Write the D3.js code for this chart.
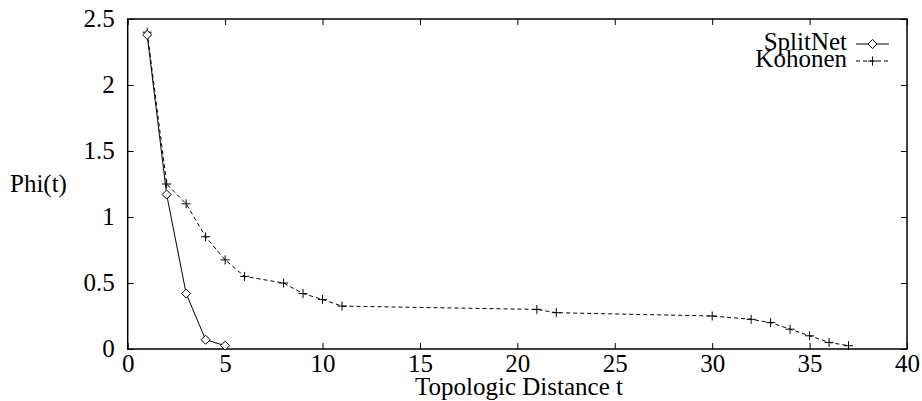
<!DOCTYPE html>
<html>
<head>
<meta charset="utf-8">
<script src="https://cdn.jsdelivr.net/npm/d3@7"></script>
<style>
  html, body { margin: 0; padding: 0; background: #fff; }
  svg { display: block; }
</style>
</head>
<body>
<div id="chart"></div>
<script>
// data
const splitT = [1, 2, 3, 4, 5];
const splitPhi = [2.38, 1.17, 0.42, 0.07, 0.025];

const kohT = [1, 2, 3, 4, 5, 6, 8, 9, 10, 11, 21, 22, 30, 32, 33, 34, 35, 36, 37];
const kohPhi = [2.40, 1.25, 1.10, 0.85, 0.675, 0.55, 0.50, 0.42, 0.375, 0.325, 0.30, 0.275, 0.25, 0.225, 0.20, 0.15, 0.10, 0.05, 0.025];

const xTicks = [0, 5, 10, 15, 20, 25, 30, 35, 40];
const yTicks = [0, 0.5, 1, 1.5, 2, 2.5];
const seriesNames = ["SplitNet", "Kohonen"];

const width = 922, height = 401;
const margin = { top: 19, right: 15, bottom: 52, left: 127.7 };
const serif = "'Liberation Serif', 'Times New Roman', Times, 'DejaVu Serif', serif";

const svg = d3.select("#chart")
    .append("svg")
    .attr("width", width)
    .attr("height", height)
    .style("font-family", serif)
    .style("font-size", "25px");

const x = d3.scaleLinear()
    .domain([0, 40])
    .range([margin.left, width - margin.right]);

const y = d3.scaleLinear()
    .domain([0, 2.5])
    .range([height - margin.bottom, margin.top]);

const tickLen = 6;

// ticks on all four sides, pointing inward
const xBottom = svg.append("g")
    .attr("transform", `translate(0,${y(0)})`)
    .call(d3.axisBottom(x).tickValues(xTicks).tickSizeInner(-tickLen).tickSizeOuter(0).tickPadding(0).tickFormat(d3.format("d")));
const xTop = svg.append("g")
    .attr("transform", `translate(0,${y(2.5)})`)
    .call(d3.axisTop(x).tickValues(xTicks).tickSizeInner(-tickLen).tickSizeOuter(0).tickFormat(""));
const yLeft = svg.append("g")
    .attr("transform", `translate(${x(0)},0)`)
    .call(d3.axisLeft(y).tickValues(yTicks).tickSizeInner(-tickLen).tickSizeOuter(0).tickFormat(d => String(d)));
const yRight = svg.append("g")
    .attr("transform", `translate(${x(40)},0)`)
    .call(d3.axisRight(y).tickValues(yTicks).tickSizeInner(-tickLen).tickSizeOuter(0).tickFormat(""));

[xBottom, xTop, yLeft, yRight].forEach(g => {
    g.attr("font-family", null).attr("font-size", null);
    g.select(".domain").remove();
    g.selectAll(".tick line").attr("stroke", "#000").attr("stroke-width", 1);
    g.selectAll("text").attr("fill", "#000");
});

xBottom.selectAll(".tick text")
    .attr("dy", null)
    .attr("y", 23);

yLeft.selectAll(".tick text")
    .attr("dy", null)
    .attr("x", -13)
    .attr("y", 7);

// frame
svg.append("rect")
    .attr("x", x(0))
    .attr("y", y(2.5))
    .attr("width", x(40) - x(0))
    .attr("height", y(0) - y(2.5))
    .attr("fill", "none")
    .attr("stroke", "#000")
    .attr("stroke-width", 1.5);

// axis titles
svg.append("text")
    .attr("x", 519)
    .attr("y", 395)
    .attr("text-anchor", "middle")
    .text("Topologic Distance t");

svg.append("text")
    .attr("x", 10)
    .attr("y", 192)
    .text("Phi(t)");

const line = d3.line()
    .x(d => x(d[0]))
    .y(d => y(d[1]));

const splitData = d3.zip(splitT, splitPhi);
const kohData = d3.zip(kohT, kohPhi);

// Kohonen: dashed with plus marks
svg.append("path")
    .datum(kohData)
    .attr("fill", "none")
    .attr("stroke", "#000")
    .attr("stroke-width", 1)
    .attr("stroke-dasharray", "4,3")
    .attr("d", line);

const plus = (sel, s) => sel.append("path")
    .attr("d", `M${-s},0H${s}M0,${-s}V${s}`)
    .attr("stroke", "#000")
    .attr("stroke-width", 1)
    .attr("fill", "none");

svg.append("g").selectAll("g")
    .data(kohData)
    .join("g")
    .attr("transform", d => `translate(${x(d[0])},${y(d[1])})`)
    .call(g => plus(g, 4.5));

// SplitNet: solid with diamonds
svg.append("path")
    .datum(splitData)
    .attr("fill", "none")
    .attr("stroke", "#000")
    .attr("stroke-width", 1)
    .attr("d", line);

const diamond = (sel, s) => sel.append("path")
    .attr("d", `M0,${-s}L${s},0L0,${s}L${-s},0Z`)
    .attr("stroke", "#000")
    .attr("stroke-width", 1)
    .attr("fill", "#fff");

svg.append("g").selectAll("g")
    .data(splitData)
    .join("g")
    .attr("transform", d => `translate(${x(d[0])},${y(d[1])})`)
    .call(g => diamond(g, 4.5));

// legend
const legend = svg.append("g");
const legendY = [44, 61];
seriesNames.forEach((name, i) => {
    legend.append("text")
        .attr("x", 847)
        .attr("y", legendY[i] + 6)
        .attr("text-anchor", "end")
        .text(name);
    const ln = legend.append("line")
        .attr("x1", 856)
        .attr("x2", 889)
        .attr("y1", legendY[i])
        .attr("y2", legendY[i])
        .attr("stroke", "#000")
        .attr("stroke-width", 1);
    const mk = legend.append("g")
        .attr("transform", `translate(872.5,${legendY[i]})`);
    if (i === 0) {
        diamond(mk, 4.5);
    } else {
        ln.attr("stroke-dasharray", "4,3");
        plus(mk, 4.5);
    }
});
</script>
</body>
</html>
